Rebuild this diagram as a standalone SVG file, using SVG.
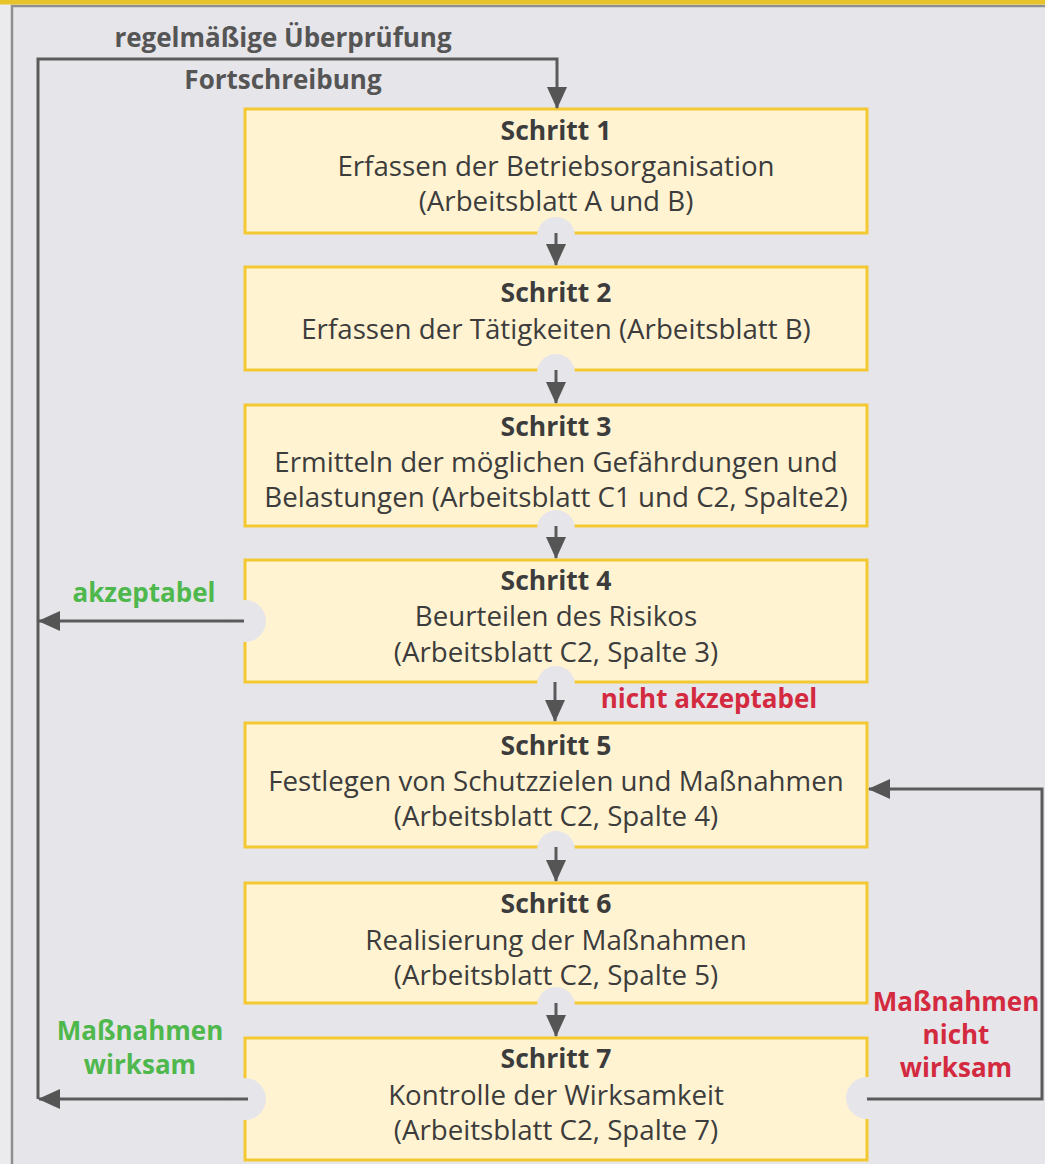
<svg xmlns="http://www.w3.org/2000/svg" width="1045" height="1164" viewBox="0 0 1045 1164">
  <style>
    .box { fill: #fff3d2; stroke: #f3c832; stroke-width: 3; }
    .notch { fill: #e6e5ea; }
    .head { font-family: "Open Sans", "Noto Sans", sans-serif; font-size: 26.5px; font-weight: bold; fill: #3c3c3c; text-anchor: middle; }
    .body { font-family: "Open Sans", "Noto Sans", sans-serif; font-size: 27.7px; fill: #3c3c3c; text-anchor: middle; }
    .lbl { font-family: "Open Sans", "Noto Sans", sans-serif; font-size: 26px; font-weight: bold; text-anchor: middle; }
    .gray { fill: #555555; }
    .green { fill: #4fb84d; }
    .red { fill: #d42a40; }
    .line { fill: none; stroke: #5a5a5a; stroke-width: 3; }
  </style>
  <defs>
    <marker id="arrow" viewBox="0 0 22 20" refX="21" refY="10" markerWidth="22" markerHeight="20" markerUnits="userSpaceOnUse" orient="auto">
      <path d="M0,0 L22,10 L0,20 Z" fill="#555555"/>
    </marker>
  </defs>

  <!-- page background and frame -->
  <rect x="0" y="0" width="1045" height="1164" fill="#ebebee"/>
  <rect x="12" y="6" width="1040" height="1170" fill="#e6e5ea" stroke="#8f8f8f" stroke-width="2.5"/>
  <rect x="0" y="0" width="1045" height="4.5" fill="#e8c42a"/>

  <!-- step boxes -->
  <g id="step1">
    <rect class="box" x="245" y="109" width="622" height="124"/>
    <circle class="notch" cx="556" cy="236" r="19"/>
    <text class="head" x="556" y="140">Schritt 1</text>
    <text class="body" x="556" y="176">Erfassen der Betriebsorganisation</text>
    <text class="body" x="556" y="211">(Arbeitsblatt A und B)</text>
  </g>
  <g id="step2">
    <rect class="box" x="245" y="267" width="622" height="103"/>
    <circle class="notch" cx="556" cy="373" r="19"/>
    <text class="head" x="556" y="302">Schritt 2</text>
    <text class="body" x="556" y="339">Erfassen der Tätigkeiten (Arbeitsblatt B)</text>
  </g>
  <g id="step3">
    <rect class="box" x="245" y="405" width="622" height="121"/>
    <circle class="notch" cx="556" cy="529" r="19"/>
    <text class="head" x="556" y="436">Schritt 3</text>
    <text class="body" x="556" y="472">Ermitteln der möglichen Gefährdungen und</text>
    <text class="body" x="556" y="507">Belastungen (Arbeitsblatt C1 und C2, Spalte2)</text>
  </g>
  <g id="step4">
    <rect class="box" x="245" y="560" width="622" height="122"/>
    <circle class="notch" cx="245" cy="621" r="21"/>
    <circle class="notch" cx="556" cy="685" r="19"/>
    <text class="head" x="556" y="590">Schritt 4</text>
    <text class="body" x="556" y="626">Beurteilen des Risikos</text>
    <text class="body" x="556" y="662">(Arbeitsblatt C2, Spalte 3)</text>
  </g>
  <g id="step5">
    <rect class="box" x="245" y="723" width="622" height="124"/>
    <circle class="notch" cx="556" cy="850" r="19"/>
    <text class="head" x="556" y="755">Schritt 5</text>
    <text class="body" x="556" y="791">Festlegen von Schutzzielen und Maßnahmen</text>
    <text class="body" x="556" y="826">(Arbeitsblatt C2, Spalte 4)</text>
  </g>
  <g id="step6">
    <rect class="box" x="245" y="883" width="622" height="120"/>
    <circle class="notch" cx="556" cy="1006" r="19"/>
    <text class="head" x="556" y="913">Schritt 6</text>
    <text class="body" x="556" y="950">Realisierung der Maßnahmen</text>
    <text class="body" x="556" y="985">(Arbeitsblatt C2, Spalte 5)</text>
  </g>
  <g id="step7">
    <rect class="box" x="245" y="1038" width="622" height="122"/>
    <circle class="notch" cx="245" cy="1099" r="21"/>
    <circle class="notch" cx="867" cy="1098" r="21"/>
    <text class="head" x="556" y="1068">Schritt 7</text>
    <text class="body" x="556" y="1105">Kontrolle der Wirksamkeit</text>
    <text class="body" x="556" y="1140">(Arbeitsblatt C2, Spalte 7)</text>
  </g>

  <!-- connectors -->
  <g id="connectors">
    <path class="line" d="M38,1099 L38,59 L557,59 L557,108" marker-end="url(#arrow)"/>
    <path class="line" d="M556,233 L556,265" marker-end="url(#arrow)"/>
    <path class="line" d="M556,370 L556,403" marker-end="url(#arrow)"/>
    <path class="line" d="M556,526 L556,558" marker-end="url(#arrow)"/>
    <path class="line" d="M555,682 L555,721" marker-end="url(#arrow)"/>
    <path class="line" d="M556,847 L556,881" marker-end="url(#arrow)"/>
    <path class="line" d="M556,1003 L556,1036" marker-end="url(#arrow)"/>
    <path class="line" d="M244,621 L39,621" marker-end="url(#arrow)"/>
    <path class="line" d="M248,1099 L39,1099" marker-end="url(#arrow)"/>
    <path class="line" d="M867,1099 L1042,1099 L1042,789 L869,789" marker-end="url(#arrow)"/>
  </g>

  <!-- connector labels -->
  <g id="labels">
    <text class="lbl gray" x="283" y="47">regelmäßige Überprüfung</text>
    <text class="lbl gray" x="283" y="89">Fortschreibung</text>
    <text class="lbl green" x="144" y="602">akzeptabel</text>
    <text class="lbl red" x="709" y="708">nicht akzeptabel</text>
    <text class="lbl green" x="140" y="1040">Maßnahmen</text>
    <text class="lbl green" x="140" y="1074">wirksam</text>
    <text class="lbl red" x="956" y="1011">Maßnahmen</text>
    <text class="lbl red" x="956" y="1044">nicht</text>
    <text class="lbl red" x="956" y="1077">wirksam</text>
  </g>
</svg>
